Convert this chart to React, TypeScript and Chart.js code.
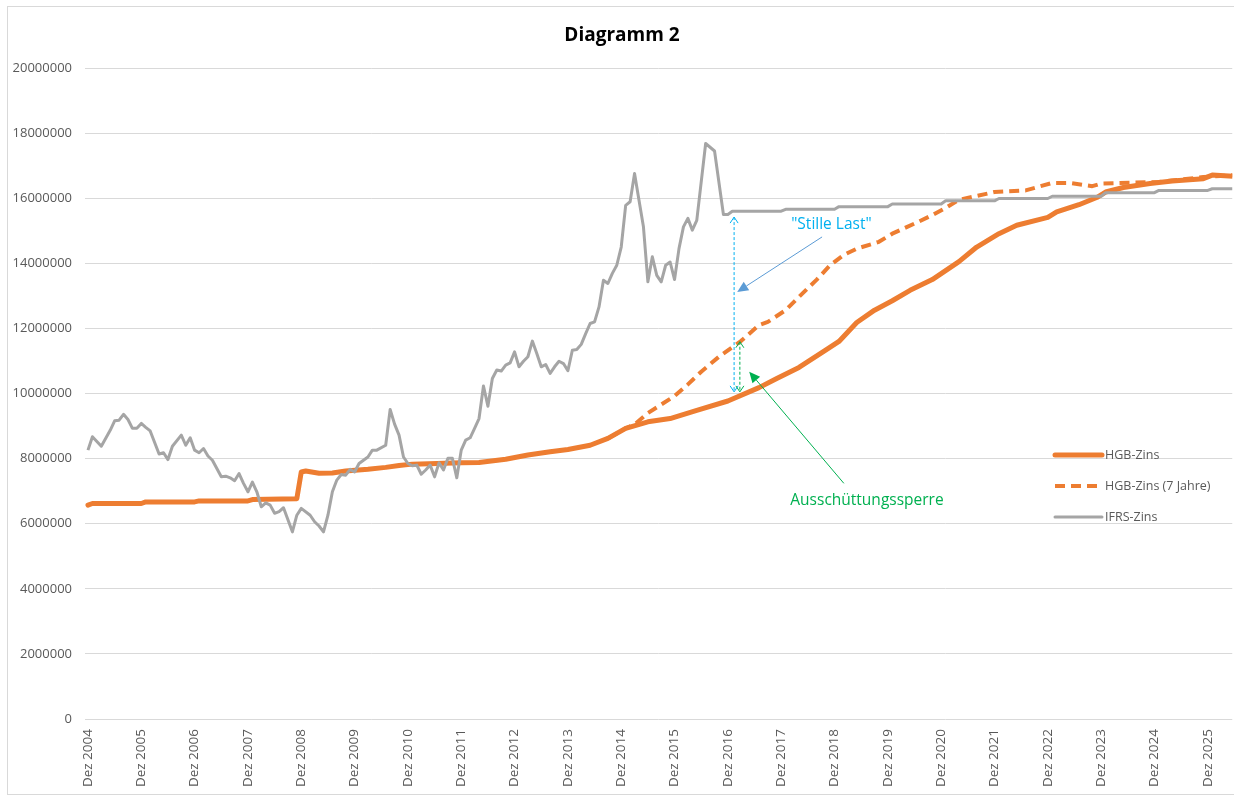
import React, { useEffect, useRef } from "react";
import { Chart, registerables } from "chart.js";

Chart.register(...registerables);

// ---- data (x = months since Dez 2004) ----
const tickYears = [2004, 2005, 2006, 2007, 2008, 2009, 2010, 2011, 2012, 2013, 2014, 2015, 2016, 2017, 2018, 2019, 2020, 2021, 2022, 2023, 2024, 2025];

const seriesLabels = ["HGB-Zins", "HGB-Zins (7 Jahre)", "IFRS-Zins"];

const hgbMonths = [0, 1, 12, 13, 24, 25, 36, 37, 47, 48, 49, 52, 55, 58, 63, 67, 70, 73, 84, 88, 94, 99, 104, 108, 113, 117, 121, 126, 131, 137, 144, 151, 155, 160, 166, 169, 173, 177, 181, 185, 190, 196, 200, 205, 209, 216, 218, 223, 227, 229, 233, 239, 244, 251, 253, 258];
const hgbValues = [6570000, 6620000, 6620000, 6670000, 6670000, 6700000, 6700000, 6740000, 6770000, 7590000, 7620000, 7550000, 7560000, 7620000, 7670000, 7730000, 7790000, 7830000, 7870000, 7880000, 7980000, 8110000, 8210000, 8280000, 8410000, 8620000, 8930000, 9130000, 9230000, 9480000, 9770000, 10180000, 10460000, 10800000, 11330000, 11600000, 12180000, 12560000, 12850000, 13170000, 13500000, 14050000, 14500000, 14910000, 15170000, 15410000, 15580000, 15800000, 16020000, 16190000, 16330000, 16450000, 16530000, 16600000, 16710000, 16670000];

const hgb7Months = [117, 121, 123, 126, 129, 132, 135, 138, 142, 147, 151, 153, 157, 160, 164, 167, 170, 173, 178, 181, 186, 190, 193, 196, 204, 211, 217, 221, 226, 228, 241, 251, 258];
const hgb7Values = [8620000, 8930000, 9050000, 9400000, 9660000, 9920000, 10280000, 10670000, 11130000, 11620000, 12100000, 12200000, 12560000, 12970000, 13500000, 13940000, 14250000, 14450000, 14660000, 14910000, 15220000, 15480000, 15700000, 15950000, 16190000, 16240000, 16470000, 16470000, 16370000, 16450000, 16500000, 16650000, 16710000];

const ifrsMonths = [0, 1, 3, 5, 6, 7, 8, 9, 10, 11, 12, 13, 14, 16, 17, 18, 19, 21, 22, 23, 24, 25, 26, 27, 28, 30, 31, 32, 33, 34, 35, 36, 37, 38, 39, 40, 41, 42, 43, 44, 46, 47, 48, 50, 51, 52, 53, 54, 55, 56, 57, 58, 59, 60, 61, 63, 64, 65, 67, 68, 69, 70, 71, 72, 73, 74, 75, 76, 77, 78, 79, 80, 81, 82, 83, 84, 85, 86, 87, 88, 89, 90, 91, 92, 93, 94, 95, 96, 97, 98, 99, 100, 101, 102, 103, 104, 105, 106, 107, 108, 109, 110, 111, 112, 113, 114, 115, 116, 117, 118, 119, 120, 121, 122, 123, 124, 125, 126, 127, 128, 129, 130, 131, 132, 133, 134, 135, 136, 137, 139, 141, 143, 144, 145, 156, 157, 168, 169, 180, 181, 192, 193, 204, 205, 216, 217, 228, 229, 240, 241, 252, 253, 258];
const ifrsValues = [8260000, 8670000, 8380000, 8870000, 9160000, 9180000, 9360000, 9200000, 8930000, 8930000, 9080000, 8960000, 8850000, 8140000, 8180000, 7970000, 8380000, 8720000, 8410000, 8640000, 8260000, 8180000, 8310000, 8080000, 7950000, 7440000, 7460000, 7410000, 7320000, 7540000, 7240000, 6980000, 7280000, 6980000, 6520000, 6640000, 6570000, 6320000, 6370000, 6490000, 5750000, 6260000, 6470000, 6260000, 6060000, 5930000, 5750000, 6260000, 6980000, 7340000, 7510000, 7490000, 7670000, 7590000, 7850000, 8050000, 8260000, 8260000, 8410000, 9510000, 9060000, 8720000, 8050000, 7850000, 7780000, 7800000, 7520000, 7650000, 7800000, 7440000, 7870000, 7650000, 8010000, 8010000, 7410000, 8260000, 8570000, 8640000, 8930000, 9230000, 10230000, 9610000, 10460000, 10720000, 10690000, 10870000, 10940000, 11280000, 10820000, 10990000, 11130000, 11610000, 11230000, 10820000, 10890000, 10620000, 10820000, 10990000, 10920000, 10700000, 11330000, 11350000, 11510000, 11840000, 12150000, 12200000, 12660000, 13480000, 13380000, 13690000, 13940000, 14500000, 15780000, 15890000, 16760000, 15940000, 15120000, 13430000, 14200000, 13630000, 13430000, 13940000, 14040000, 13500000, 14450000, 15120000, 15380000, 15020000, 15320000, 17680000, 17450000, 15500000, 15500000, 15600000, 15600000, 15660000, 15660000, 15740000, 15740000, 15820000, 15820000, 15920000, 15920000, 15990000, 15990000, 16060000, 16060000, 16170000, 16170000, 16240000, 16240000, 16290000, 16290000];

// annotations (data coordinates)
const stilleLastArrow = { month: 145.4, top: 15420000, bottom: 10050000 };
const sperreArrow = { month: 146.7, top: 11590000, bottom: 10050000 };
const stilleLastLabel = { text: '"Stille Last"', month: 167.3, value: 15190000 };
const stilleLastPointer = { fromMonth: 165.2, fromValue: 14810000, toMonth: 146.1, toValue: 13120000 };
const sperreLabel = { text: "Ausschüttungssperre", month: 175.3, value: 6720000 };
const sperrePointer = { fromMonth: 170.1, fromValue: 7240000, toMonth: 148.8, toValue: 10670000 };

const toPoints = (xs: number[], ys: number[]) => xs.map((x, i) => ({ x, y: ys[i] }));

const FONT = "'Open Sans', sans-serif";
const ORANGE = "#ed7d31";
const GREY = "#a5a5a5";

export default function App() {
  const ref = useRef<HTMLCanvasElement>(null);

  useEffect(() => {
    document.body.style.margin = "0";
    document.body.style.overflow = "hidden";
    const canvas = ref.current;
    if (!canvas) return;

    const overlay = {
      id: "overlay",
      afterDraw(chart: any) {
        const { ctx, scales } = chart;
        const xs = scales.x;
        const ys = scales.y;
        const px = (m: number) => xs.getPixelForValue(m);
        const py = (v: number) => ys.getPixelForValue(v);
        ctx.save();

        // title
        ctx.fillStyle = "#000000";
        ctx.font = `bold 19px ${FONT}`;
        ctx.textAlign = "center";
        ctx.textBaseline = "middle";
        ctx.fillText("Diagramm 2", 614, 29);

        // dashed double arrows
        const dArrow = (a: any, color: string) => {
          const X = px(a.month), T = py(a.top), B = py(a.bottom);
          ctx.strokeStyle = color;
          ctx.lineWidth = 1;
          ctx.setLineDash([3, 2]);
          ctx.beginPath();
          ctx.moveTo(X, T);
          ctx.lineTo(X, B);
          ctx.stroke();
          ctx.setLineDash([]);
          ctx.beginPath();
          ctx.moveTo(X - 4, T + 6);
          ctx.lineTo(X, T);
          ctx.lineTo(X + 4, T + 6);
          ctx.moveTo(X - 4, B - 6);
          ctx.lineTo(X, B);
          ctx.lineTo(X + 4, B - 6);
          ctx.stroke();
        };
        dArrow(stilleLastArrow, "#00b0f0");
        dArrow(sperreArrow, "#00b050");

        // pointer lines with filled arrowheads
        const pointer = (p: any, color: string) => {
          const x1 = px(p.fromMonth), y1 = py(p.fromValue);
          const x2 = px(p.toMonth), y2 = py(p.toValue);
          const ang = Math.atan2(y2 - y1, x2 - x1);
          const len = 11, hw = 5;
          const bx = x2 - len * Math.cos(ang), by = y2 - len * Math.sin(ang);
          ctx.strokeStyle = color;
          ctx.fillStyle = color;
          ctx.lineWidth = 1;
          ctx.beginPath();
          ctx.moveTo(x1, y1);
          ctx.lineTo(bx, by);
          ctx.stroke();
          ctx.beginPath();
          ctx.moveTo(x2, y2);
          ctx.lineTo(bx + hw * Math.sin(ang), by - hw * Math.cos(ang));
          ctx.lineTo(bx - hw * Math.sin(ang), by + hw * Math.cos(ang));
          ctx.closePath();
          ctx.fill();
        };
        pointer(stilleLastPointer, "#5b9bd5");
        pointer(sperrePointer, "#00b050");

        // labels
        ctx.font = `15.5px ${FONT}`;
        ctx.textAlign = "center";
        ctx.textBaseline = "middle";
        ctx.fillStyle = "#00b0f0";
        ctx.fillText(stilleLastLabel.text, px(stilleLastLabel.month), py(stilleLastLabel.value));
        ctx.fillStyle = "#00b050";
        ctx.fillText(sperreLabel.text, px(sperreLabel.month), py(sperreLabel.value));

        // legend
        const ds = chart.data.datasets;
        const lx1 = 1047, lx2 = 1094;
        const rowY = [448, 479, 510];
        ds.forEach((d: any, i: number) => {
          ctx.strokeStyle = d.borderColor;
          ctx.lineWidth = d.borderWidth;
          ctx.setLineDash(d.borderDash || []);
          ctx.lineCap = d.borderDash ? "butt" : "round";
          ctx.beginPath();
          ctx.moveTo(lx1, rowY[i]);
          ctx.lineTo(lx2, rowY[i]);
          ctx.stroke();
          ctx.setLineDash([]);
          ctx.fillStyle = "#595959";
          ctx.font = `12.5px ${FONT}`;
          ctx.textAlign = "left";
          ctx.textBaseline = "middle";
          ctx.fillText(d.label, lx2 + 3, rowY[i]);
        });
        ctx.restore();
      },
    };

    const chart = new Chart(canvas, {
      type: "line",
      data: {
        datasets: [
          {
            label: seriesLabels[0],
            data: toPoints(hgbMonths, hgbValues),
            borderColor: ORANGE,
            backgroundColor: ORANGE,
            borderWidth: 5,
            pointRadius: 0,
            tension: 0,
            borderJoinStyle: "round",
            borderCapStyle: "round",
            order: 2,
          },
          {
            label: seriesLabels[1],
            data: toPoints(hgb7Months, hgb7Values),
            borderColor: ORANGE,
            backgroundColor: ORANGE,
            borderWidth: 4,
            borderDash: [10, 6],
            pointRadius: 0,
            tension: 0,
            borderJoinStyle: "round",
            order: 1,
          },
          {
            label: seriesLabels[2],
            data: toPoints(ifrsMonths, ifrsValues),
            borderColor: GREY,
            backgroundColor: GREY,
            borderWidth: 3,
            pointRadius: 0,
            tension: 0,
            borderJoinStyle: "round",
            order: 0,
          },
        ],
      },
      options: {
        responsive: false,
        animation: false,
        layout: { padding: { top: 61, left: 0, right: 0, bottom: 0 } },
        plugins: {
          legend: { display: false },
          title: { display: false },
          tooltip: { enabled: false },
        },
        scales: {
          x: {
            type: "linear",
            min: -0.67,
            max: 257.5,
            grid: { display: false, drawTicks: false },
            border: { display: false },
            afterBuildTicks: (axis: any) => {
              axis.ticks = tickYears.map((_, i) => ({ value: i * 12 }));
            },
            afterFit: (axis: any) => {
              axis.height = 75;
            },
            ticks: {
              autoSkip: false,
              maxRotation: 90,
              minRotation: 90,
              padding: 10,
              color: "#595959",
              font: { family: FONT, size: 13.5 },
              callback: (_v: any, i: number) => "Dez " + tickYears[i],
            },
          },
          y: {
            min: 0,
            max: 20000000,
            grid: { color: "#d9d9d9", lineWidth: 1, drawTicks: false },
            border: { display: false },
            afterFit: (axis: any) => {
              axis.width = 77;
            },
            ticks: {
              stepSize: 2000000,
              padding: 13,
              color: "#595959",
              font: { family: FONT, size: 13 },
              callback: (v: any) => String(v),
            },
          },
        },
      },
      plugins: [overlay],
    });

    return () => chart.destroy();
  }, []);

  return (
    <div
      style={{
        position: "absolute",
        left: 7,
        top: 6,
        width: 1226,
        height: 787,
        borderLeft: "1px solid #d9d9d9",
        borderTop: "1px solid #d9d9d9",
        borderBottom: "1px solid #d9d9d9",
        background: "#ffffff",
      }}
    >
      <canvas ref={ref} width={1226} height={787} style={{ display: "block", width: 1226, height: 787 }} />
    </div>
  );
}
